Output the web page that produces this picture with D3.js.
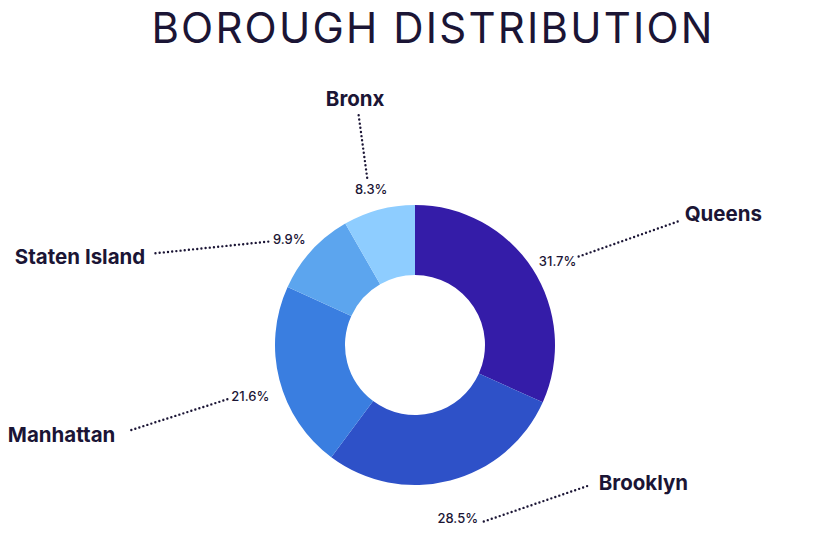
<!DOCTYPE html>
<html>
<head>
<meta charset="utf-8">
<script src="https://cdn.jsdelivr.net/npm/d3@7"></script>
<style>
  html, body { margin: 0; padding: 0; background: #ffffff; }
  svg { display: block; }
</style>
</head>
<body>
<svg id="chart" width="834" height="543"></svg>
<script>
// ---- data ----
const title = "BOROUGH DISTRIBUTION";
const boroughs = ["Queens", "Brooklyn", "Manhattan", "Staten Island", "Bronx"];
const shares = [31.7, 28.5, 21.6, 9.9, 8.3];
const sliceColors = ["#341ca8", "#2e51c8", "#3a7ee0", "#5ca5ee", "#8ecdff"];

// ---- layout (callout offsets relative to the percent label point) ----
// [lineStartDx, lineStartDy, lineEndDx, lineEndDy, nameDx, nameDy, anchor]
const callouts = [
  [21, -5, 120, -40, 127, -41, "start"],
  [26, 3, 131, -33, 141, -29, "start"],
  [-23, 3, -123, 35, -135, 46, "end"],
  [-21, 2, -137, 14, -144, 24, "end"],
  [-4, -12, -13, -78, -16, -84, "middle"]
];

const svg = d3.select("#chart");
const cx = 415, cy = 345, outerR = 140, innerR = 70, labelR = 170;
const ink = "#1b1535";

svg.append("text")
  .attr("x", 433).attr("y", 43)
  .attr("text-anchor", "middle")
  .attr("font-family", "Inter, 'Noto Sans', sans-serif")
  .attr("font-weight", 400)
  .attr("font-size", 42)
  .attr("letter-spacing", 2.2)
  .attr("fill", ink)
  .text(title);

const data = boroughs.map((b, i) => ({ name: b, value: shares[i], color: sliceColors[i], co: callouts[i] }));

const pie = d3.pie().value(d => d.value).sort(null);
const arcs = pie(data);
const arc = d3.arc().innerRadius(innerR).outerRadius(outerR);
const labelArc = d3.arc().innerRadius(labelR).outerRadius(labelR);

const g = svg.append("g").attr("transform", `translate(${cx},${cy})`);

g.selectAll("path.slice")
  .data(arcs)
  .join("path")
  .attr("class", "slice")
  .attr("d", arc)
  .attr("fill", d => d.data.color);

arcs.forEach(a => {
  const [px, py0] = labelArc.centroid(a);
  const py = py0 + 9;
  const co = a.data.co;
  g.append("text")
    .attr("x", px).attr("y", py)
    .attr("dy", "0.35em")
    .attr("text-anchor", "middle")
    .attr("font-family", "Inter, 'Noto Sans', sans-serif")
    .attr("font-weight", 500)
    .attr("font-size", 13)
    .attr("fill", ink)
    .text(d3.format(".1f")(a.data.value) + "%");
  g.append("line")
    .attr("x1", px + co[0]).attr("y1", py + co[1])
    .attr("x2", px + co[2]).attr("y2", py + co[3])
    .attr("stroke", ink)
    .attr("stroke-width", 2.4)
    .attr("stroke-linecap", "round")
    .attr("stroke-dasharray", "0 4.2");
  g.append("text")
    .attr("x", px + co[4]).attr("y", py + co[5])
    .attr("text-anchor", co[6])
    .attr("font-family", "Inter, 'Noto Sans', sans-serif")
    .attr("font-weight", 700)
    .attr("font-size", 20.5)
    .attr("fill", ink)
    .text(a.data.name);
});
</script>
</body>
</html>
